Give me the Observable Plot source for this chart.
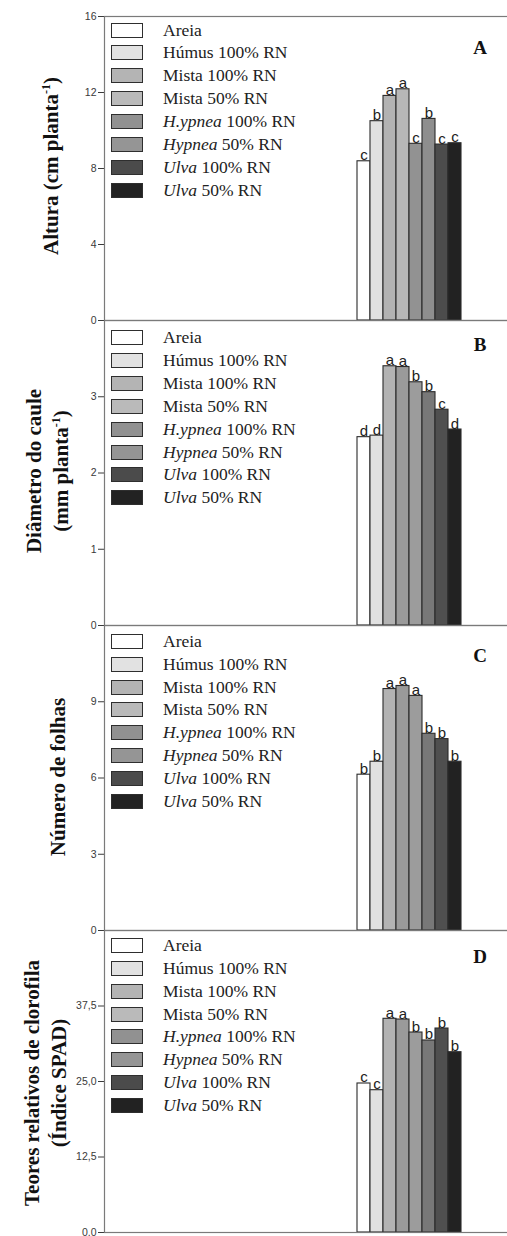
<!DOCTYPE html>
<html>
<head>
<meta charset="utf-8">
<script src="https://cdn.jsdelivr.net/npm/d3@7"></script>
<script src="https://cdn.jsdelivr.net/npm/@observablehq/plot@0.6"></script>
<style>
html, body { margin: 0; padding: 0; background: #fff; overflow: hidden; }
#wrap { position: relative; width: 507px; height: 1236px; }
#wrap svg { display: block; }
.ytitle { position: absolute; transform: translate(-50%, -50%) rotate(-90deg); white-space: nowrap;
  font-family: "Liberation Serif", "Times New Roman", serif; font-weight: bold; font-size: 21px;
  color: #111; text-align: center; line-height: 27px; }
.ytitle sup { font-size: 12px; vertical-align: 0; position: relative; top: -8px; }
.pletter { position: absolute; transform: translate(-50%, -50%); font-family: "Liberation Serif", "Times New Roman", serif;
  font-weight: bold; font-size: 19px; color: #111; }
.legrow { position: absolute; height: 16px; white-space: nowrap; }
.sw { position: absolute; left: 111px; width: 29.5px; height: 13px; border: 1.3px solid #2e2e2e; top: 0; }
.lt { position: absolute; left: 163px; top: 50%; transform: translateY(-50%); font-family: "Liberation Serif", "Times New Roman", serif;
  font-size: 17.5px; color: #222; line-height: 1; }
</style>
</head>
<body>
<div id="wrap"></div>
<script>
// ---- data ----
const categories = ["Areia", "Húmus 100% RN", "Mista 100% RN", "Mista 50% RN", "H.ypnea 100% RN", "Hypnea 50% RN", "Ulva 100% RN", "Ulva 50% RN"];
const legendNames = ["Areia", "Húmus", "Mista", "Mista", "H.ypnea", "Hypnea", "Ulva", "Ulva"];
const legendItalic = [false, false, false, false, true, true, true, true];
const legendSuffix = ["", " 100% RN", " 100% RN", " 50% RN", " 100% RN", " 50% RN", " 100% RN", " 50% RN"];

const alturaValues = [8.38, 10.49, 11.82, 12.17, 9.30, 10.61, 9.26, 9.33];
const alturaLetters = ["c", "b", "a", "a", "c", "b", "c", "c"];
const diametroValues = [2.47, 2.49, 3.40, 3.39, 3.19, 3.06, 2.83, 2.57];
const diametroLetters = ["d", "d", "a", "a", "b", "b", "c", "d"];
const folhasValues = [6.13, 6.64, 9.50, 9.62, 9.23, 7.74, 7.53, 6.64];
const folhasLetters = ["b", "b", "a", "a", "a", "b", "b", "b"];
const spadValues = [24.67, 23.56, 35.38, 35.26, 33.11, 31.79, 33.77, 29.85];
const spadLetters = ["c", "c", "a", "a", "b", "b", "b", "b"];

const ticksA = [0, 4, 8, 12, 16];
const ticksB = [0, 1, 2, 3];
const ticksC = [0, 3, 6, 9];
const ticksD = [0, 12.5, 25, 37.5];

// ---- styles ----
const colorsA = ["#ffffff", "#e1e1e1", "#b2b2b2", "#b7b7b7", "#929292", "#8e8e8e", "#4c4c4c", "#222222"];
const colorsOther = ["#ffffff", "#e1e1e1", "#b3b3b3", "#9a9a9a", "#9c9c9c", "#787878", "#4f4f4f", "#222222"];
const legendColors = ["#ffffff", "#e2e2e2", "#b4b4b4", "#bababa", "#919191", "#959595", "#4b4b4b", "#222222"];

const wrap = document.getElementById("wrap");

function panel(cfg) {
  const data = categories.map((c, i) => ({cat: c, value: cfg.values[i], letter: cfg.letters[i]}));
  const svg = Plot.plot({
    width: 507,
    height: cfg.height,
    marginLeft: 104,
    marginRight: -1,
    marginTop: cfg.mt,
    marginBottom: cfg.mb,
    style: {background: "transparent", overflow: "visible", fontFamily: "'Liberation Sans', Arial, sans-serif", fontSize: "10.5px", color: "#3a3a3a"},
    x: {type: "band", domain: categories, range: [357, 461], padding: 0, axis: null},
    y: {domain: [0, cfg.max], ticks: cfg.ticks, tickSize: 6, tickPadding: 2, tickFormat: cfg.fmt, label: null},
    color: {domain: categories, range: cfg.colors},
    marks: [
      Plot.barY(data, {x: "cat", y: "value", fill: "cat", stroke: "#2b2b2b", strokeWidth: 1.1}),
      Plot.text(data, {x: "cat", y: "value", text: "letter", lineAnchor: "bottom", dy: -1, fontSize: 15, fill: "#222"}),
      Plot.frame({stroke: "#7a7a7a", strokeWidth: 1.2})
    ]
  });
  wrap.appendChild(svg);

  // y title
  const t = document.createElement("div");
  t.className = "ytitle";
  t.style.left = cfg.titleX + "px";
  t.style.top = cfg.titleY + "px";
  t.innerHTML = cfg.title;
  wrap.appendChild(t);

  // panel letter
  const p = document.createElement("div");
  p.className = "pletter";
  p.style.left = "480px";
  p.style.top = cfg.letterY + "px";
  p.textContent = cfg.letter;
  wrap.appendChild(p);

  // legend
  categories.forEach((c, i) => {
    const row = document.createElement("div");
    row.className = "legrow";
    row.style.top = (cfg.legY + i * 22.9 - 8) + "px";
    row.style.left = "0px";
    row.style.width = "400px";
    const sw = document.createElement("div");
    sw.className = "sw";
    sw.style.background = legendColors[i];
    row.appendChild(sw);
    const lt = document.createElement("div");
    lt.className = "lt";
    lt.innerHTML = (legendItalic[i] ? "<i>" + legendNames[i] + "</i>" : legendNames[i]) + legendSuffix[i];
    row.appendChild(lt);
    wrap.appendChild(row);
  });
}

const fmtComma = d => d.toFixed(1).replace(".", ",");

panel({values: alturaValues, letters: alturaLetters, max: 16, ticks: ticksA, fmt: d => d, colors: colorsA,
  height: 320, mt: 16, mb: 0, title: "Altura (cm planta<sup>-1</sup>)", titleX: 53, titleY: 166, letter: "A", letterY: 48, legY: 30.5});
panel({values: diametroValues, letters: diametroLetters, max: 4, ticks: ticksB, fmt: d => d, colors: colorsOther,
  height: 305, mt: 0, mb: 0, title: "Diâmetro do caule<br>(mm planta<sup>-1</sup>)", titleX: 48.5, titleY: 471, letter: "B", letterY: 345, legY: 338});
panel({values: folhasValues, letters: folhasLetters, max: 12, ticks: ticksC, fmt: d => d, colors: colorsOther,
  height: 305, mt: 0, mb: 0, title: "Número de folhas", titleX: 58, titleY: 777, letter: "C", letterY: 655.5, legY: 641.7});
panel({values: spadValues, letters: spadLetters, max: 50, ticks: ticksD, fmt: fmtComma, colors: colorsOther,
  height: 306, mt: 0, mb: 4, title: "Teores relativos de clorofila<br>(Índice SPAD)", titleX: 46, titleY: 1083, letter: "D", letterY: 957, legY: 945.8});
</script>
</body>
</html>
